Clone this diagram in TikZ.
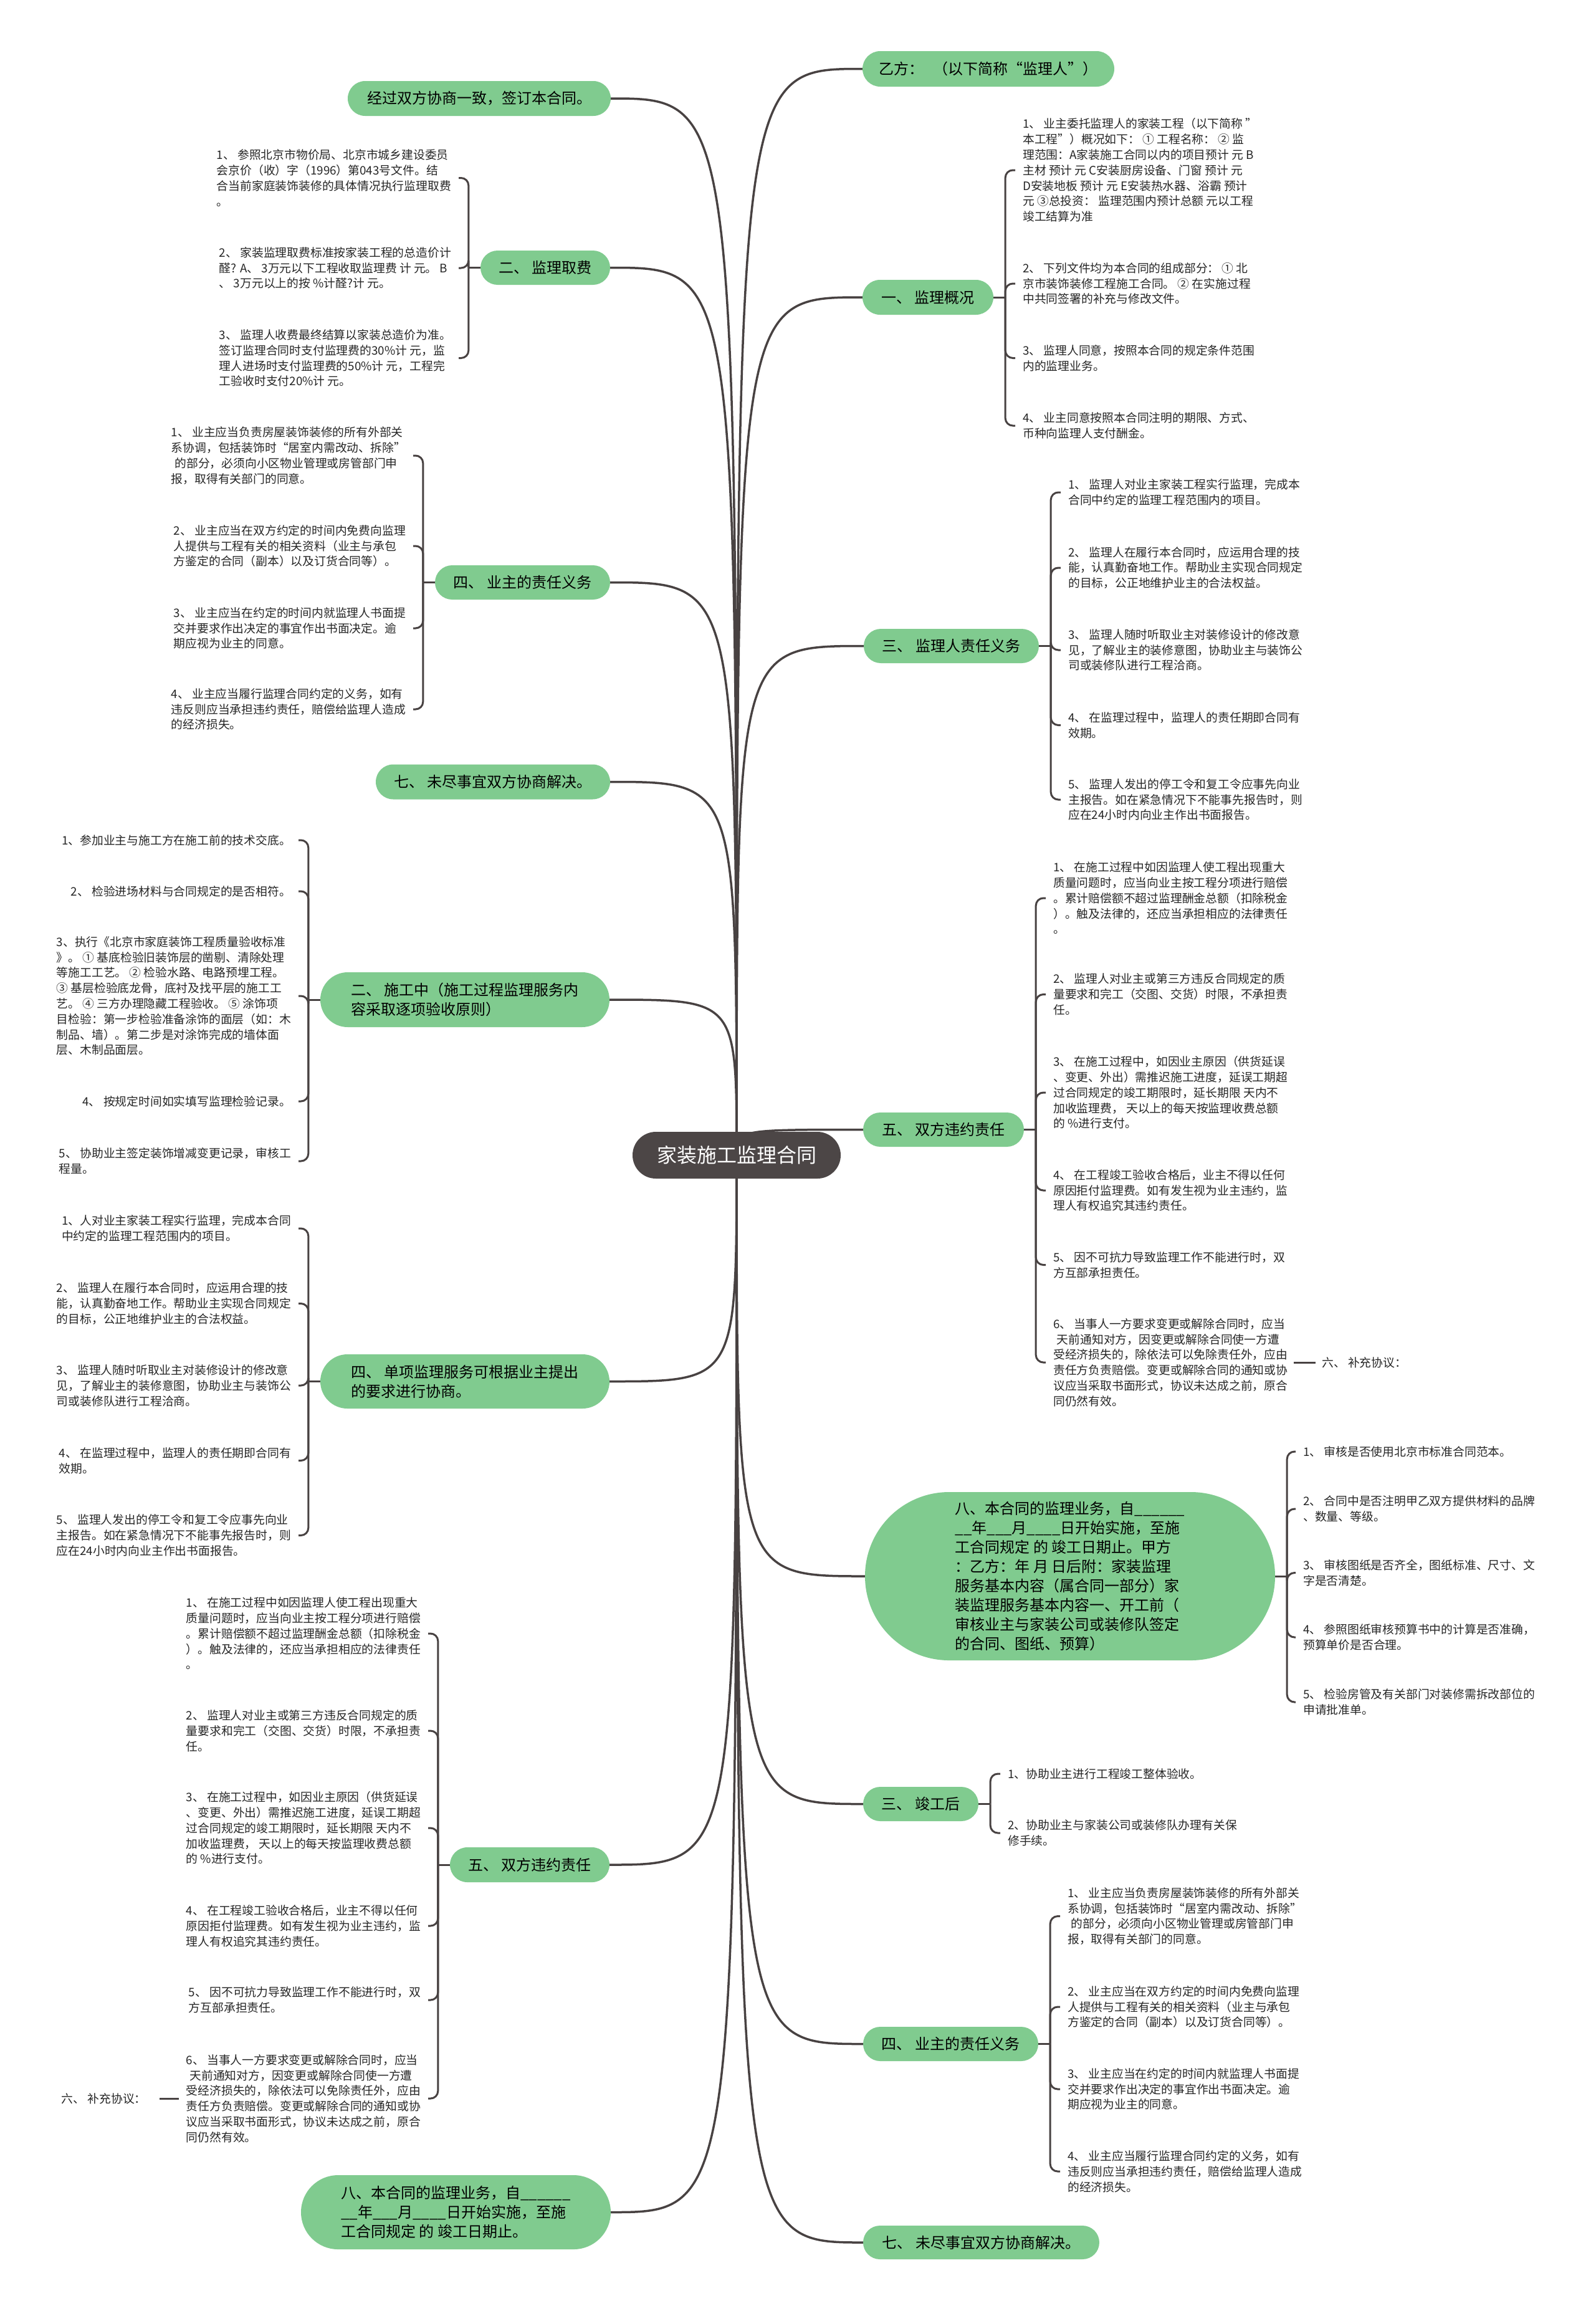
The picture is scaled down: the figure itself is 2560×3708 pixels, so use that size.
\documentclass[tikz,border=0pt]{standalone}
\usepackage{fontspec}
\setmainfont{Noto Sans CJK SC}
\usetikzlibrary{calc}
\pgfdeclarelayer{bg}
\pgfsetlayers{bg,main}
\definecolor{gcol}{RGB}{128,203,143}
\definecolor{lcol}{RGB}{72,66,66}
\definecolor{ccol}{RGB}{76,70,70}
\newcommand{\leaffont}{\fontsize{18.8pt}{24.8pt}\selectfont}
\newcommand{\greenfont}{\fontsize{24pt}{31pt}\selectfont}
\tikzset{
  gnode/.style={fill=gcol, font=\greenfont, align=left, inner sep=0pt, text=black},
  leaf/.style={font=\leaffont, align=left, inner sep=0pt, text=black!85},
  lleaf/.style={leaf, anchor=east},
  rleaf/.style={leaf, anchor=west},
  conn/.style={draw=lcol, line width=3.5pt},
  brk/.style={draw=lcol, line width=3pt, rounded corners=12pt},
}
\newcommand{\mainL}[1]{\draw[conn] (c.center) .. controls (c.center |- #1.east) .. (#1.east);}
\newcommand{\mainR}[1]{\draw[conn] (c.center) .. controls (c.center |- #1.west) .. (#1.west);}
\newcommand{\junL}[1]{\coordinate (#1j) at ($(#1.west)+(-19,0)$); \draw[draw=lcol, line width=3pt] (#1.west) -- (#1j);}
\newcommand{\junR}[1]{\coordinate (#1j) at ($(#1.east)+(19,0)$); \draw[draw=lcol, line width=3pt] (#1.east) -- (#1j);}
\newcommand{\brL}[2]{\draw[brk] (#1j) |- ([xshift=12pt]#2.east);}
\newcommand{\brR}[2]{\draw[brk] (#1j) |- ([xshift=-12pt]#2.west);}
\begin{document}
\begin{tikzpicture}[x=1pt,y=-1pt]
\begin{pgfonlayer}{bg}
\fill[white] (0,0) rectangle (2560,3708);
\end{pgfonlayer}
\useasboundingbox (0,0) rectangle (2560,3708);

% center
\node[fill=ccol, text=white, font=\fontsize{32pt}{36pt}\selectfont, minimum width=334, minimum height=75, rounded corners=37.5, inner sep=0pt] (c) at (1182,1853.5) {家装施工监理合同};

% left main nodes
\node[gnode, minimum width=422, minimum height=56, rounded corners=28] (L1) at (769,158) {经过双方协商一致，签订本合同。};
\node[gnode, minimum width=208, minimum height=55, rounded corners=27.5] (L2) at (875,429.5) {二、 监理取费};
\node[gnode, minimum width=281, minimum height=55, rounded corners=27.5] (L3) at (838.5,934.5) {四、 业主的责任义务};
\node[gnode, minimum width=376, minimum height=56, rounded corners=28] (L4) at (791,1254.5) {七、 未尽事宜双方协商解决。};
\node[gnode, minimum width=464, minimum height=88, rounded corners=44] (L5) at (746,1604) {二、 施工中（施工过程监理服务内\\容采取逐项验收原则）};
\node[gnode, minimum width=464, minimum height=87, rounded corners=43.5] (L6) at (746,2216.5) {四、 单项监理服务可根据业主提出\\的要求进行协商。};
\node[gnode, minimum width=256, minimum height=56, rounded corners=28] (L7) at (850,2992) {五、 双方违约责任};
\node[gnode, minimum width=497, minimum height=119, rounded corners=59.5] (L8) at (731.5,3549.5) {八、本合同的监理业务，自\_\_\_\_\_\_\\\_\_年\_\_\_月\_\_\_\_日开始实施，至施\\工合同规定 的 竣工日期止。};

% right main nodes
\node[gnode, minimum width=404, minimum height=57, rounded corners=28.5] (R1) at (1586,110.5) {乙方：\hspace{0.6em}（以下简称“监理人”）};
\node[gnode, minimum width=210, minimum height=56, rounded corners=28] (R2) at (1489,477) {一、 监理概况};
\node[gnode, minimum width=281, minimum height=55, rounded corners=27.5] (R3) at (1526.5,1036.5) {三、 监理人责任义务};
\node[gnode, minimum width=258, minimum height=55, rounded corners=27.5] (R4) at (1514,1812.5) {五、 双方违约责任};
\node[gnode, minimum width=658, minimum height=270, rounded corners=135] (R5) at (1717,2529) {八、本合同的监理业务，自\_\_\_\_\_\_\\\_\_年\_\_\_月\_\_\_\_日开始实施，至施\\工合同规定 的 竣工日期止。甲方\\：乙方：年 月 日后附：家装监理\\服务基本内容（属合同一部分）家\\装监理服务基本内容一、开工前（\\审核业主与家装公司或装修队签定\\的合同、图纸、预算）};
\node[gnode, minimum width=185, minimum height=55, rounded corners=27.5] (R6) at (1477.5,2894.5) {三、 竣工后};
\node[gnode, minimum width=281, minimum height=55, rounded corners=27.5] (R7) at (1525.5,3279.5) {四、 业主的责任义务};
\node[gnode, minimum width=379, minimum height=54, rounded corners=27] (R8) at (1574.5,3598) {七、 未尽事宜双方协商解决。};

% leaves of L2
\node[lleaf] (A1) at (724,285.5) {1、 参照北京市物价局、北京市城乡建设委员\\会京价（收）字（1996）第043号文件。结\\合当前家庭装饰装修的具体情况执行监理取费\\。};
\node[lleaf] (A2) at (724,430) {2、 家装监理取费标准按家装工程的总造价计\\醛? A、 3万元以下工程收取监理费 计 元。 B\\、 3万元以上的按 \%计醛?计 元。};
\node[lleaf] (A3) at (724,574.5) {3、 监理人收费最终结算以家装总造价为准。\\签订监理合同时支付监理费的30\%计 元，监\\理人进场时支付监理费的50\%计 元，工程完\\工验收时支付20\%计 元。};

% leaves of L3
\node[lleaf] (B1) at (651,731) {1、 业主应当负责房屋装饰装修的所有外部关\\系协调，包括装饰时“居室内需改动、拆除”\\\hspace*{0.3em}的部分，必须向小区物业管理或房管部门申\\报，取得有关部门的同意。};
\node[lleaf] (B2) at (651,876) {2、 业主应当在双方约定的时间内免费向监理\\人提供与工程有关的相关资料（业主与承包\\方鉴定的合同（副本）以及订货合同等）。};
\node[lleaf] (B3) at (651,1008) {3、 业主应当在约定的时间内就监理人书面提\\交并要求作出决定的事宜作出书面决定。逾\\期应视为业主的同意。};
\node[lleaf] (B4) at (651,1138) {4、 业主应当履行监理合同约定的义务，如有\\违反则应当承担违约责任，赔偿给监理人造成\\的经济损失。};

% leaves of L5
\node[lleaf] (C1) at (467,1348) {1、参加业主与施工方在施工前的技术交底。};
\node[lleaf] (C2) at (467,1430) {2、 检验进场材料与合同规定的是否相符。};
\node[lleaf] (C3) at (467,1598) {3、执行《北京市家庭装饰工程质量验收标准\\》。 ① 基底检验旧装饰层的凿剔、清除处理\\等施工工艺。 ② 检验水路、电路预埋工程。\\③ 基层检验底龙骨，底衬及找平层的施工工\\艺。 ④ 三方办理隐藏工程验收。 ⑤ 涂饰项\\目检验：第一步检验准备涂饰的面层（如：木\\制品、墙）。第二步是对涂饰完成的墙体面\\层、木制品面层。};
\node[lleaf] (C4) at (467,1767) {4、 按规定时间如实填写监理检验记录。};
\node[lleaf] (C5) at (467,1863) {5、 协助业主签定装饰增减变更记录，审核工\\程量。};

% leaves of L6
\node[lleaf] (D1) at (467,1971) {1、人对业主家装工程实行监理，完成本合同\\中约定的监理工程范围内的项目。};
\node[lleaf] (D2) at (467,2091.5) {2、 监理人在履行本合同时，应运用合理的技\\能，认真勤奋地工作。帮助业主实现合同规定\\的目标，公正地维护业主的合法权益。};
\node[lleaf] (D3) at (467,2223) {3、 监理人随时听取业主对装修设计的修改意\\见，了解业主的装修意图，协助业主与装饰公\\司或装修队进行工程洽商。};
\node[lleaf] (D4) at (467,2343.5) {4、 在监理过程中，监理人的责任期即合同有\\效期。};
\node[lleaf] (D5) at (467,2463.5) {5、 监理人发出的停工令和复工令应事先向业\\主报告。如在紧急情况下不能事先报告时，则\\应在24小时内向业主作出书面报告。};

% leaves of L7
\node[lleaf] (F1) at (675,2621) {1、 在施工过程中如因监理人使工程出现重大\\质量问题时，应当向业主按工程分项进行赔偿\\。累计赔偿额不超过监理酬金总额（扣除税金\\）。触及法律的，还应当承担相应的法律责任\\。};
\node[lleaf] (F2) at (675,2777) {2、 监理人对业主或第三方违反合同规定的质\\量要求和完工（交图、交货）时限，不承担责\\任。};
\node[lleaf] (F3) at (675,2933) {3、 在施工过程中，如因业主原因（供货延误\\、变更、外出）需推迟施工进度，延误工期超\\过合同规定的竣工期限时，延长期限 天内不\\加收监理费， 天以上的每天按监理收费总额\\的 \%进行支付。};
\node[lleaf] (F4) at (675,3090) {4、 在工程竣工验收合格后，业主不得以任何\\原因拒付监理费。如有发生视为业主违约，监\\理人有权追究其违约责任。};
\node[lleaf] (F5) at (675,3209) {5、 因不可抗力导致监理工作不能进行时，双\\方互部承担责任。};
\node[lleaf] (F6) at (675,3367) {6、 当事人一方要求变更或解除合同时，应当\\\hspace*{0.3em}天前通知对方，因变更或解除合同使一方遭\\受经济损失的，除依法可以免除责任外，应由\\责任方负责赔偿。变更或解除合同的通知或协\\议应当采取书面形式，协议未达成之前，原合\\同仍然有效。};
\node[lleaf] (sixL) at (235,3367) {六、 补充协议：};

% leaves of R2
\node[rleaf] (G1) at (1641,273) {1、 业主委托监理人的家装工程（以下简称 ”\\本工程”）概况如下： ① 工程名称： ② 监\\理范围：A家装施工合同以内的项目预计 元 B\\主材 预计 元 C安装厨房设备、门窗 预计 元\\D安装地板 预计 元 E安装热水器、浴霸 预计\\元 ③总投资： 监理范围内预计总额 元以工程\\竣工结算为准};
\node[rleaf] (G2) at (1641,455) {2、 下列文件均为本合同的组成部分： ① 北\\京市装饰装修工程施工合同。 ② 在实施过程\\中共同签署的补充与修改文件。};
\node[rleaf] (G3) at (1641,574.5) {3、 监理人同意，按照本合同的规定条件范围\\内的监理业务。};
\node[rleaf] (G4) at (1641,683) {4、 业主同意按照本合同注明的期限、方式、\\币种向监理人支付酬金。};

% leaves of R3
\node[rleaf] (E1) at (1714,790) {1、 监理人对业主家装工程实行监理，完成本\\合同中约定的监理工程范围内的项目。};
\node[rleaf] (E2) at (1714,911) {2、 监理人在履行本合同时，应运用合理的技\\能，认真勤奋地工作。帮助业主实现合同规定\\的目标，公正地维护业主的合法权益。};
\node[rleaf] (E3) at (1714,1043) {3、 监理人随时听取业主对装修设计的修改意\\见，了解业主的装修意图，协助业主与装饰公\\司或装修队进行工程洽商。};
\node[rleaf] (E4) at (1714,1163.5) {4、 在监理过程中，监理人的责任期即合同有\\效期。};
\node[rleaf] (E5) at (1714,1283) {5、 监理人发出的停工令和复工令应事先向业\\主报告。如在紧急情况下不能事先报告时，则\\应在24小时内向业主作出书面报告。};

% leaves of R4
\node[rleaf] (K1) at (1690,1441) {1、 在施工过程中如因监理人使工程出现重大\\质量问题时，应当向业主按工程分项进行赔偿\\。累计赔偿额不超过监理酬金总额（扣除税金\\）。触及法律的，还应当承担相应的法律责任\\。};
\node[rleaf] (K2) at (1690,1595.5) {2、 监理人对业主或第三方违反合同规定的质\\量要求和完工（交图、交货）时限，不承担责\\任。};
\node[rleaf] (K3) at (1690,1753) {3、 在施工过程中，如因业主原因（供货延误\\、变更、外出）需推迟施工进度，延误工期超\\过合同规定的竣工期限时，延长期限 天内不\\加收监理费， 天以上的每天按监理收费总额\\的 \%进行支付。};
\node[rleaf] (K4) at (1690,1910) {4、 在工程竣工验收合格后，业主不得以任何\\原因拒付监理费。如有发生视为业主违约，监\\理人有权追究其违约责任。};
\node[rleaf] (K5) at (1690,2029.5) {5、 因不可抗力导致监理工作不能进行时，双\\方互部承担责任。};
\node[rleaf] (K6) at (1690,2186) {6、 当事人一方要求变更或解除合同时，应当\\\hspace*{0.3em}天前通知对方，因变更或解除合同使一方遭\\受经济损失的，除依法可以免除责任外，应由\\责任方负责赔偿。变更或解除合同的通知或协\\议应当采取书面形式，协议未达成之前，原合\\同仍然有效。};
\node[rleaf] (sixR) at (2121,2186) {六、 补充协议：};

% leaves of R5
\node[rleaf] (H1) at (2091,2329) {1、 审核是否使用北京市标准合同范本。};
\node[rleaf] (H2) at (2091,2421) {2、 合同中是否注明甲乙双方提供材料的品牌\\、数量、等级。};
\node[rleaf] (H3) at (2091,2523.5) {3、 审核图纸是否齐全，图纸标准、尺寸、文\\字是否清楚。};
\node[rleaf] (H4) at (2091,2627) {4、 参照图纸审核预算书中的计算是否准确，\\预算单价是否合理。};
\node[rleaf] (H5) at (2091,2731) {5、 检验房管及有关部门对装修需拆改部位的\\申请批准单。};

% leaves of R6
\node[rleaf] (I1) at (1617,2846) {1、协助业主进行工程竣工整体验收。};
\node[rleaf] (I2) at (1617,2941) {2、协助业主与家装公司或装修队办理有关保\\修手续。};

% leaves of R7
\node[rleaf] (M1) at (1713,3074.5) {1、 业主应当负责房屋装饰装修的所有外部关\\系协调，包括装饰时“居室内需改动、拆除”\\\hspace*{0.3em}的部分，必须向小区物业管理或房管部门申\\报，取得有关部门的同意。};
\node[rleaf] (M2) at (1713,3220) {2、 业主应当在双方约定的时间内免费向监理\\人提供与工程有关的相关资料（业主与承包\\方鉴定的合同（副本）以及订货合同等）。};
\node[rleaf] (M3) at (1713,3352) {3、 业主应当在约定的时间内就监理人书面提\\交并要求作出决定的事宜作出书面决定。逾\\期应视为业主的同意。};
\node[rleaf] (M4) at (1713,3484) {4、 业主应当履行监理合同约定的义务，如有\\违反则应当承担违约责任，赔偿给监理人造成\\的经济损失。};

% connectors
\begin{pgfonlayer}{bg}
\mainL{L1}\mainL{L2}\mainL{L3}\mainL{L4}\mainL{L5}\mainL{L6}\mainL{L7}\mainL{L8}
\mainR{R1}\mainR{R2}\mainR{R3}\mainR{R4}\mainR{R5}\mainR{R6}\mainR{R7}\mainR{R8}
\junL{L2}\junL{L3}\junL{L5}\junL{L6}\junL{L7}
\junR{R2}\junR{R3}\junR{R4}\junR{R5}\junR{R6}\junR{R7}
\brL{L2}{A1}\brL{L2}{A2}\brL{L2}{A3}
\brL{L3}{B1}\brL{L3}{B2}\brL{L3}{B3}\brL{L3}{B4}
\brL{L5}{C1}\brL{L5}{C2}\brL{L5}{C3}\brL{L5}{C4}\brL{L5}{C5}
\brL{L6}{D1}\brL{L6}{D2}\brL{L6}{D3}\brL{L6}{D4}\brL{L6}{D5}
\brL{L7}{F1}\brL{L7}{F2}\brL{L7}{F3}\brL{L7}{F4}\brL{L7}{F5}\brL{L7}{F6}
\brR{R2}{G1}\brR{R2}{G2}\brR{R2}{G3}\brR{R2}{G4}
\brR{R3}{E1}\brR{R3}{E2}\brR{R3}{E3}\brR{R3}{E4}\brR{R3}{E5}
\brR{R4}{K1}\brR{R4}{K2}\brR{R4}{K3}\brR{R4}{K4}\brR{R4}{K5}\brR{R4}{K6}
\brR{R5}{H1}\brR{R5}{H2}\brR{R5}{H3}\brR{R5}{H4}\brR{R5}{H5}
\brR{R6}{I1}\brR{R6}{I2}
\brR{R7}{M1}\brR{R7}{M2}\brR{R7}{M3}\brR{R7}{M4}
\draw[draw=lcol, line width=3pt, shorten <=12pt, shorten >=21pt] (F6.west) -- (sixL.east);
\draw[draw=lcol, line width=3pt, shorten <=10pt, shorten >=10pt] (K6.east) -- (sixR.west);
\end{pgfonlayer}
\end{tikzpicture}
\end{document}
